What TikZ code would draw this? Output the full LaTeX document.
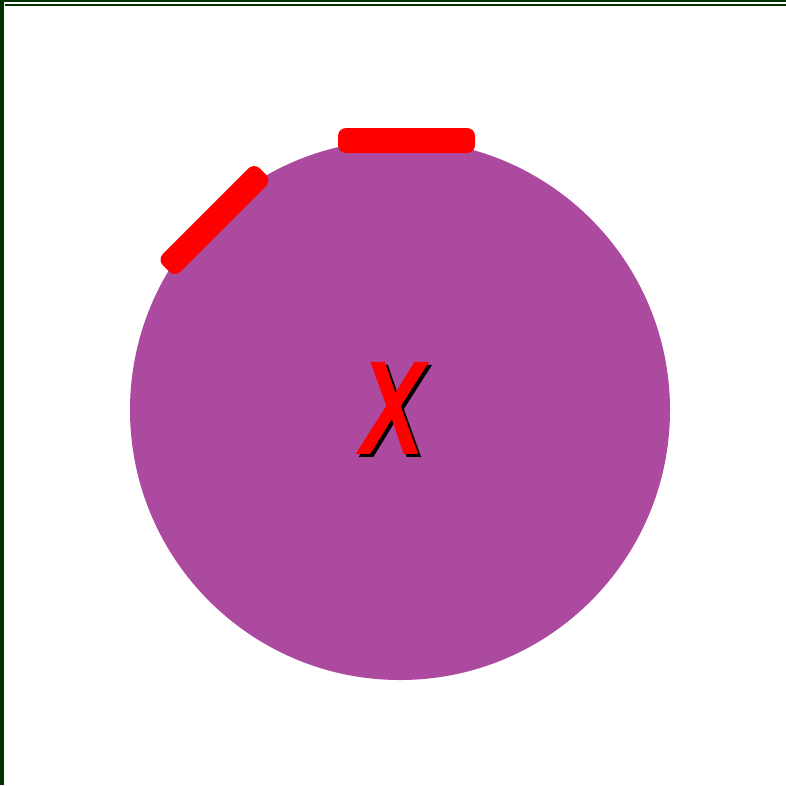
\documentclass[tikz,border=0pt]{standalone}
\usepackage{fontspec}
\setmainfont{Liberation Sans}
\definecolor{dkgreen}{RGB}{0,50,0}
\definecolor{disc}{RGB}{171,74,159}
\definecolor{barred}{RGB}{255,0,0}
\tikzset{
  bar/.style={fill=barred, rounded corners=8pt},
  edge/.style={fill=dkgreen},
  xletter/.style={font=\fontsize{134}{134}\selectfont\bfseries\itshape, inner sep=0pt, xscale=0.72}
}
\begin{document}
\begin{tikzpicture}[x=1pt,y=-1pt]
\useasboundingbox (0,0) rectangle (786,785);
\fill[white] (0,0) rectangle (786,785);
% frame lines
\fill[edge] (0,0) rectangle (3.5,785);
\fill[edge] (0,0) rectangle (786,1.8);
\fill[edge] (5,4) rectangle (786,5.8);
% disc
\fill[disc] (400,410) circle (270);
% bars
\fill[bar] (338,128) rectangle (475,153);
\fill[bar, rotate around={45:(214.5,220)}] (146,207.5) rectangle (283,232.5);
% letter
\node[xletter, text=black] (xs) at (396,411) {X};
\node[xletter, text=barred] (x) at (393,408) {X};
\end{tikzpicture}
\end{document}
